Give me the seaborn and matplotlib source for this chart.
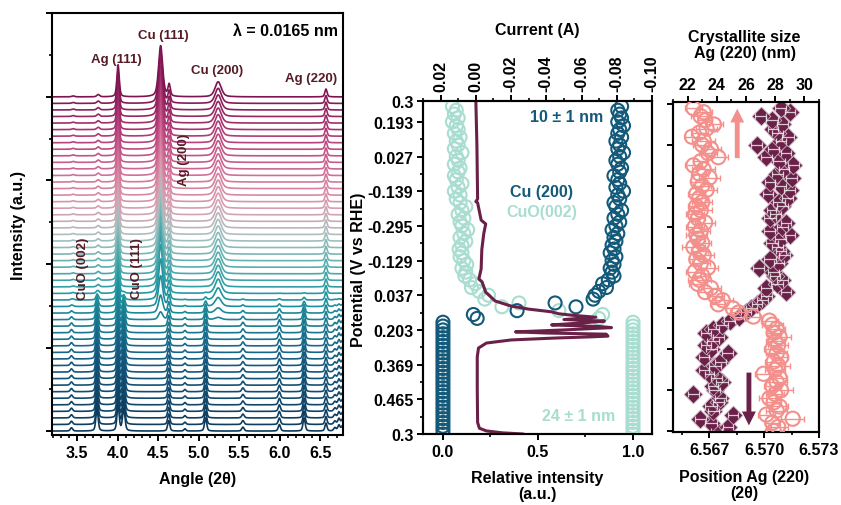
import numpy as np
import pandas as pd
import matplotlib
matplotlib.use('Agg')
import matplotlib.pyplot as plt
from matplotlib.colors import LinearSegmentedColormap
from matplotlib.ticker import MultipleLocator, FixedLocator
import seaborn as sns

# ---------------- data ----------------
# in situ XRD: peak tables of the two phases (centre 2theta, height in offset units, half width)
metal_pos = [3.45, 3.76, 4.005, 4.53, 4.635, 5.24, 6.57]
metal_amp = [0.15, 0.35, 4.9, 7.8, 1.8, 2.3, 1.2]
metal_hw = [0.02, 0.02, 0.017, 0.03, 0.017, 0.045, 0.016]
oxide_pos = [3.43, 3.745, 4.005, 4.075, 4.63, 4.83, 5.085, 5.545, 5.995, 6.30, 6.57, 6.68, 6.73, 6.775]
oxide_amp = [0.5, 3.6, 4.0, 3.4, 1.6, 0.35, 2.0, 0.6, 1.0, 2.0, 1.2, 0.5, 0.9, 0.8]
oxide_hw = [0.017, 0.016, 0.016, 0.018, 0.016, 0.015, 0.016, 0.017, 0.016, 0.016, 0.015, 0.017, 0.017, 0.017]
# metallic fraction of each of the 52 scans (bottom -> top)
metal_frac = [0, 0, 0, 0, 0, 0, 0, 0, 0, 0, 0, 0, 0, 0, 0, 0, 0,
              0.15, 0.35, 0.6, 0.8, 0.95,
              1, 1, 1, 1, 1, 1, 1, 1, 1, 1, 1, 1, 1, 1, 1, 1, 1, 1, 1, 1,
              1, 1, 1, 1, 1, 1, 1, 1, 1, 1]

# middle panel: relative intensities and current vs scan
cu200_rel = [0.0] * 30 + [
    0.18, 0.16, 0.39, 0.70, 0.59, 0.79, 0.80, 0.82, 0.86, 0.84,
    0.87, 0.90, 0.89, 0.88, 0.90, 0.89, 0.91, 0.88, 0.90,
    0.89, 0.91, 0.90, 0.92, 0.89, 0.91, 0.93, 0.90, 0.92, 0.94,
    0.91, 0.90, 0.93, 0.92, 0.95, 0.91, 0.93, 0.92, 0.90, 0.93,
    0.94, 0.92, 0.91, 0.93, 0.95, 0.92, 0.93, 0.91, 0.94, 0.92,
    0.93, 0.95, 0.92, 0.94, 0.93, 0.92, 0.94]
cuo002_rel = [1.0] * 30 + [
    0.82, 0.84, 0.61, 0.31, 0.40, 0.22, 0.24, 0.19, 0.15, 0.17,
    0.14, 0.115, 0.12, 0.10, 0.125, 0.11, 0.09, 0.10, 0.085,
    0.10, 0.12, 0.09, 0.11, 0.13, 0.10, 0.09, 0.11, 0.08, 0.10,
    0.12, 0.09, 0.07, 0.09, 0.06, 0.08, 0.10, 0.07, 0.06, 0.08,
    0.09, 0.06, 0.08, 0.07, 0.10, 0.06, 0.08, 0.07, 0.09, 0.06,
    0.08, 0.07, 0.05, 0.08, 0.06, 0.07, 0.05]
mid_scan = list(range(len(cu200_rel)))

current_A = [-0.027, -0.015, -0.006, -0.002, -0.001, -0.0008, -0.0008, -0.0015, -0.006,
             -0.020, -0.045, -0.065, -0.075, -0.074, -0.040, -0.0225, -0.050, -0.077,
             -0.070, -0.043, -0.060, -0.073, -0.050, -0.068, -0.055, -0.047, -0.043,
             -0.030, -0.020, -0.011, -0.0056, -0.0035, -0.0017, -0.003, -0.0034,
             -0.0045, -0.0056, -0.003, -0.001, 0.0, -0.001, -0.0006, 0.0]
current_scan = [0.0, 0.3, 0.8, 1.5, 3, 12, 20, 22.3, 23.6, 24.4, 24.9, 25.2, 25.4, 25.9,
                26.2, 26.5, 27.0, 27.6, 27.9, 28.3, 28.8, 29.3, 29.7, 30.3, 30.8, 31.2,
                31.7, 32.4, 33.2, 34.5, 36.8, 39.5, 40.2, 42.8, 47.9, 52, 54.5, 55.5, 60,
                60.3, 61, 75, 86.4]
potential_ticks = ['0.3', '0.465', '0.369', '0.203', '0.037', '-0.129', '-0.295',
                   '-0.139', '0.027', '0.193', '0.3']

# right panel: Ag(220) crystallite size (nm) and position (2theta)
ag_size = [27.9, 28.2, 27.8, 29.2, 27.4, 28.1, 28.3, 27.9, 27.6, 28.0,
           28.4, 27.8, 28.1, 28.3, 27.2, 28.0, 28.2, 27.9, 28.4, 28.1,
           27.8, 28.2, 28.0, 28.3, 27.9, 28.1, 27.8, 27.6, 26.5, 25.5,
           25.1, 24.1, 24.4, 23.9, 23.2, 23.6, 22.7, 22.8, 23.0, 22.5,
           23.4, 22.9, 22.6, 23.1, 22.8, 22.4, 23.0, 22.7, 22.6, 22.9,
           22.5, 23.2, 22.7, 22.5, 22.9, 22.6, 23.0, 22.8, 22.6, 23.3,
           23.0, 22.7, 23.5, 22.8, 23.1, 22.4, 22.9, 24.1, 23.4, 23.6,
           23.0, 23.1, 22.3, 22.8, 23.3, 23.8, 23.2, 22.9, 23.1, 22.4]
ag_size_err = [0.6, 0.7, 0.5, 0.8, 0.6, 0.7, 0.6, 0.5, 0.7, 0.6,
               0.8, 0.6, 0.7, 0.5, 0.6, 0.7, 0.8, 0.6, 0.5, 0.7,
               0.6, 0.7, 0.6, 0.8, 0.5, 0.6, 0.7, 0.6, 0.5, 0.6,
               0.5, 0.6, 0.7, 0.6, 0.5, 0.7, 0.6, 0.8, 0.5, 0.6,
               0.7, 0.6, 0.5, 0.7, 0.6, 0.8, 0.6, 0.5, 0.7, 0.6,
               0.6, 0.7, 0.5, 0.6, 0.8, 0.6, 0.7, 0.5, 0.6, 0.7,
               0.6, 0.5, 0.7, 0.6, 0.8, 0.6, 0.5, 0.7, 0.6, 0.7,
               0.6, 0.8, 0.5, 0.6, 0.7, 0.6, 0.5, 0.7, 0.6, 0.6]
ag_pos = [6.5674, 6.5680, 6.5671, 6.5665, 6.5683, 6.5672, 6.5671, 6.5675, 6.5676, 6.5661,
          6.5673, 6.5672, 6.5677, 6.5674, 6.5670, 6.5667, 6.5673, 6.5676, 6.5667, 6.5680,
          6.5671, 6.5668, 6.5672, 6.5675, 6.5668, 6.5672, 6.5677, 6.5681, 6.5686, 6.5690,
          6.5693, 6.5696, 6.5699, 6.5701, 6.5712, 6.5701, 6.5707, 6.5710, 6.5706, 6.5705,
          6.5697, 6.5708, 6.5703, 6.5711, 6.5709, 6.5707, 6.5704, 6.5709, 6.5714, 6.5703,
          6.5710, 6.5712, 6.5703, 6.5706, 6.5704, 6.5710, 6.5708, 6.5713, 6.5702, 6.5714,
          6.5709, 6.5703, 6.5715, 6.5707, 6.5711, 6.5716, 6.5708, 6.5701, 6.5712, 6.5705,
          6.5696, 6.5709, 6.5713, 6.5707, 6.5705, 6.5710, 6.5704, 6.5698, 6.5714, 6.5709]
ag_pos_err = [0.0003, 0.00028, 0.00032, 0.0003, 0.00027, 0.0003, 0.00033, 0.0003, 0.00028, 0.0003] * 8
right_scan = list(range(len(ag_size)))

# ---------------- style ----------------
sns.set_theme(style='ticks')
plt.rcParams['font.family'] = ['Liberation Sans', 'DejaVu Sans']
plt.rcParams['font.weight'] = 'bold'
plt.rcParams['axes.labelweight'] = 'bold'
plt.rcParams['axes.linewidth'] = 1.5
plt.rcParams['axes.edgecolor'] = 'black'
plt.rcParams['text.color'] = 'black'
plt.rcParams['axes.labelcolor'] = 'black'
for a in ['xtick', 'ytick']:
    plt.rcParams[f'{a}.direction'] = 'out'
    plt.rcParams[f'{a}.major.width'] = 1.4
    plt.rcParams[f'{a}.minor.width'] = 1.2
    plt.rcParams[f'{a}.major.size'] = 4.5
    plt.rcParams[f'{a}.minor.size'] = 2.5
    plt.rcParams[f'{a}.labelsize'] = 11.5
    plt.rcParams[f'{a}.color'] = 'black'
    plt.rcParams[f'{a}.labelcolor'] = 'black'
    plt.rcParams[f'{a}.major.pad'] = 2.5

FS = 11.5
dark_teal = '#12597a'
light_teal = '#a8ddd0'
purple = '#6a2148'
salmon = '#f4908c'
peak_col = '#561b25'

fig = plt.figure(figsize=(8.41, 5.06), dpi=100)
ax1 = fig.add_axes([52 / 841, 70 / 506, 291 / 841, 422 / 506])
ax2 = fig.add_axes([423 / 841, 71 / 506, 229 / 841, 333 / 506])
ax3 = fig.add_axes([673 / 841, 73 / 506, 146 / 841, 330 / 506])

# ---------------- panel 1: waterfall ----------------
angle = np.linspace(3.19, 6.78, 1400)


def profile(pos, amp, hw):
    out = np.zeros_like(angle)
    for c, a, w in zip(pos, amp, hw):
        d = ((angle - c) / w) ** 2
        out += a * (0.45 / (1 + d) + 0.55 * np.exp(-np.log(2) * d))
    return out


metal = profile(metal_pos, metal_amp, metal_hw)
oxide = profile(oxide_pos, oxide_amp, oxide_hw)
frames = []
for i, f in enumerate(metal_frac):
    frames.append(pd.DataFrame({'angle': angle,
                                'intensity': i + f * metal + (1 - f) * oxide,
                                'scan': i}))
xrd = pd.concat(frames, ignore_index=True)

cmap = LinearSegmentedColormap.from_list('xrd', [
    (0.0, '#0d3a5c'), (0.2, '#145a80'), (0.4, '#2096a0'), (0.5, '#5fb0b0'),
    (0.58, '#a9c0c0'), (0.66, '#d8a0b0'), (0.75, '#d5769a'), (0.87, '#b53f7a'),
    (1.0, '#7d1450')])
n_scan = len(metal_frac)
palette = [cmap(i / (n_scan - 1)) for i in range(n_scan)]
sns.lineplot(data=xrd, x='angle', y='intensity', hue='scan', palette=palette,
             estimator=None, sort=False, legend=False, linewidth=1.2, ax=ax1)

ax1.set_xlim(3.19, 6.78)
ax1.set_ylim(-0.6, 63.8)
ax1.xaxis.set_major_locator(MultipleLocator(0.5))
ax1.xaxis.set_minor_locator(MultipleLocator(0.1))
ax1.yaxis.set_major_locator(FixedLocator([0, 12.75, 25.5, 38.25, 51, 63.75]))
ax1.yaxis.set_minor_locator(FixedLocator([6.375, 19.125, 31.875, 44.625, 57.375]))
ax1.set_yticklabels([])
ax1.set_xlabel('Angle (2θ)', fontsize=FS)
ax1.set_ylabel('Intensity (a.u.)', fontsize=FS)
ax1.xaxis.set_label_coords(0.5, -0.085)
ax1.yaxis.set_label_coords(-0.09, 0.5)

ax1.text(6.72, 61.2, 'λ = 0.0165 nm', fontsize=FS, ha='right', va='center', color='black')
for txt, x, y in [('Ag (111)', 3.98, 56.8), ('Cu (111)', 4.56, 60.5),
                  ('Cu (200)', 5.23, 55.1), ('Ag (220)', 6.39, 53.9)]:
    ax1.text(x, y, txt, fontsize=9.5, ha='center', va='center', color=peak_col)
for txt, x, y in [('Ag (200)', 4.82, 41.5), ('CuO (002)', 3.57, 24.9), ('CuO (111)', 4.24, 24.9)]:
    ax1.text(x, y, txt, fontsize=9.5, ha='center', va='center', rotation=90, color=peak_col)

# ---------------- panel 2: relative intensity + current ----------------
mid = pd.DataFrame({'scan': mid_scan, 'cu200': cu200_rel, 'cuo002': cuo002_rel})
sns.scatterplot(data=mid, x='cuo002', y='scan', marker='o', s=88, facecolor='none',
                edgecolor=light_teal, linewidth=1.5, ax=ax2, zorder=3)
sns.scatterplot(data=mid, x='cu200', y='scan', marker='o', s=88, facecolor='none',
                edgecolor=dark_teal, linewidth=1.5, ax=ax2, zorder=3)
ax2.set_xlim(-0.105, 1.1)
ax2.set_ylim(0, 86.4)
ax2.xaxis.set_major_locator(MultipleLocator(0.5))
ax2.xaxis.set_minor_locator(MultipleLocator(0.25))
ax2.yaxis.set_major_locator(FixedLocator([0, 9, 18, 27, 36, 45, 54, 63, 72, 81, 86.4]))
ax2.yaxis.set_minor_locator(FixedLocator([4.5, 13.5, 22.5, 31.5, 40.5, 49.5, 58.5, 67.5, 76.5]))
ax2.set_yticklabels(potential_ticks)
ax2.set_xlabel('Relative intensity\n(a.u.)', fontsize=FS, linespacing=1.1)
ax2.set_ylabel('Potential (V vs RHE)', fontsize=FS)
ax2.xaxis.set_label_coords(0.5, -0.108)
ax2.yaxis.set_label_coords(-0.25, 0.495)

ax2t = ax2.twiny()
cur = pd.DataFrame({'current': current_A, 'scan': current_scan})
sns.lineplot(data=cur, x='current', y='scan', sort=False, estimator=None, color=purple,
             linewidth=2.2, ax=ax2t)
ax2t.set_xlim(0.03, -0.10)
ax2t.set_ylim(0, 86.4)
ax2t.xaxis.set_minor_locator(MultipleLocator(0.01))
ax2t.set_xticks([0.02, 0.0, -0.02, -0.04, -0.06, -0.08, -0.10])
ax2t.set_xticklabels(['0.02', '0.00', '-0.02', '-0.04', '-0.06', '-0.08', '-0.10'], rotation=90)
ax2t.set_xlabel('Current (A)', fontsize=FS)
ax2t.xaxis.set_label_coords(0.5, 1.2)
ax2t.set_ylabel('')

ax2.text(0.65, 82.5, '10 ± 1 nm', color=dark_teal, fontsize=FS, ha='center', va='center')
ax2.text(0.52, 62.8, 'Cu (200)', color=dark_teal, fontsize=FS, ha='center', va='center')
ax2.text(0.52, 57.6, 'CuO(002)', color=light_teal, fontsize=FS, ha='center', va='center')
ax2.text(0.716, 4.9, '24 ± 1 nm', color=light_teal, fontsize=FS, ha='center', va='center')

# ---------------- panel 3: Ag(220) position + size ----------------
right = pd.DataFrame({'scan': right_scan, 'pos': ag_pos, 'size': ag_size})
sns.scatterplot(data=right, x='pos', y='scan', marker='D', s=90, color=purple,
                edgecolor='#c9aebd', linewidth=0.6, ax=ax3, zorder=3)
ax3.errorbar(ag_pos, right_scan, xerr=ag_pos_err, fmt='none', ecolor='white',
             elinewidth=0.9, capsize=2, capthick=0.9, alpha=0.75, zorder=4)
ax3.set_xlim(6.565, 6.573)
ax3.set_ylim(-0.25, 80.5)
ax3.set_xticks([6.567, 6.570, 6.573])
ax3.set_xticklabels(['6.567', '6.570', '6.573'])
ax3.xaxis.set_minor_locator(FixedLocator([6.5655, 6.5685, 6.5715]))
ax3.yaxis.set_major_locator(MultipleLocator(10))
ax3.set_yticklabels([])
ax3.set_ylabel('')
ax3.set_xlabel('Position Ag (220)\n(2θ)', fontsize=FS, linespacing=1.1)
ax3.xaxis.set_label_coords(0.49, -0.112)

ax3t = ax3.twiny()
ax3t.errorbar(ag_size, right_scan, xerr=ag_size_err, fmt='none', ecolor=salmon,
              elinewidth=1.0, capsize=2.5, capthick=1.0, zorder=2)
sns.scatterplot(data=right, x='size', y='scan', marker='o', s=105, facecolor='none',
                edgecolor=salmon, linewidth=1.5, ax=ax3t, zorder=3)
ax3t.set_xlim(21, 31)
ax3t.set_ylim(-0.25, 80.5)
ax3t.xaxis.set_minor_locator(MultipleLocator(1))
ax3t.set_xticks([22, 24, 26, 28, 30])
ax3t.set_xlabel('Crystallite size\nAg (220) (nm)', fontsize=FS, linespacing=1.1)
ax3t.xaxis.set_label_coords(0.49, 1.135)
ax3t.set_ylabel('')

ax3.annotate('', xy=(0.44, 0.98), xytext=(0.44, 0.83), xycoords='axes fraction',
             arrowprops=dict(facecolor=salmon, edgecolor='none', width=3.5,
                             headwidth=10, headlength=10, shrink=0))
ax3.annotate('', xy=(0.52, 0.02), xytext=(0.52, 0.18), xycoords='axes fraction',
             arrowprops=dict(facecolor=purple, edgecolor='none', width=3.5,
                             headwidth=10, headlength=10, shrink=0))

for ax in [ax1, ax2, ax3]:
    ax.tick_params(which='both', right=False)
ax2.tick_params(which='both', top=False)
ax3.tick_params(which='both', top=False)
for t in ax1.get_xticklabels() + ax2.get_xticklabels() + ax2.get_yticklabels() + \
         ax2t.get_xticklabels() + ax3.get_xticklabels() + ax3t.get_xticklabels():
    t.set_fontweight('bold')

fig.savefig('out.png', dpi=100)
